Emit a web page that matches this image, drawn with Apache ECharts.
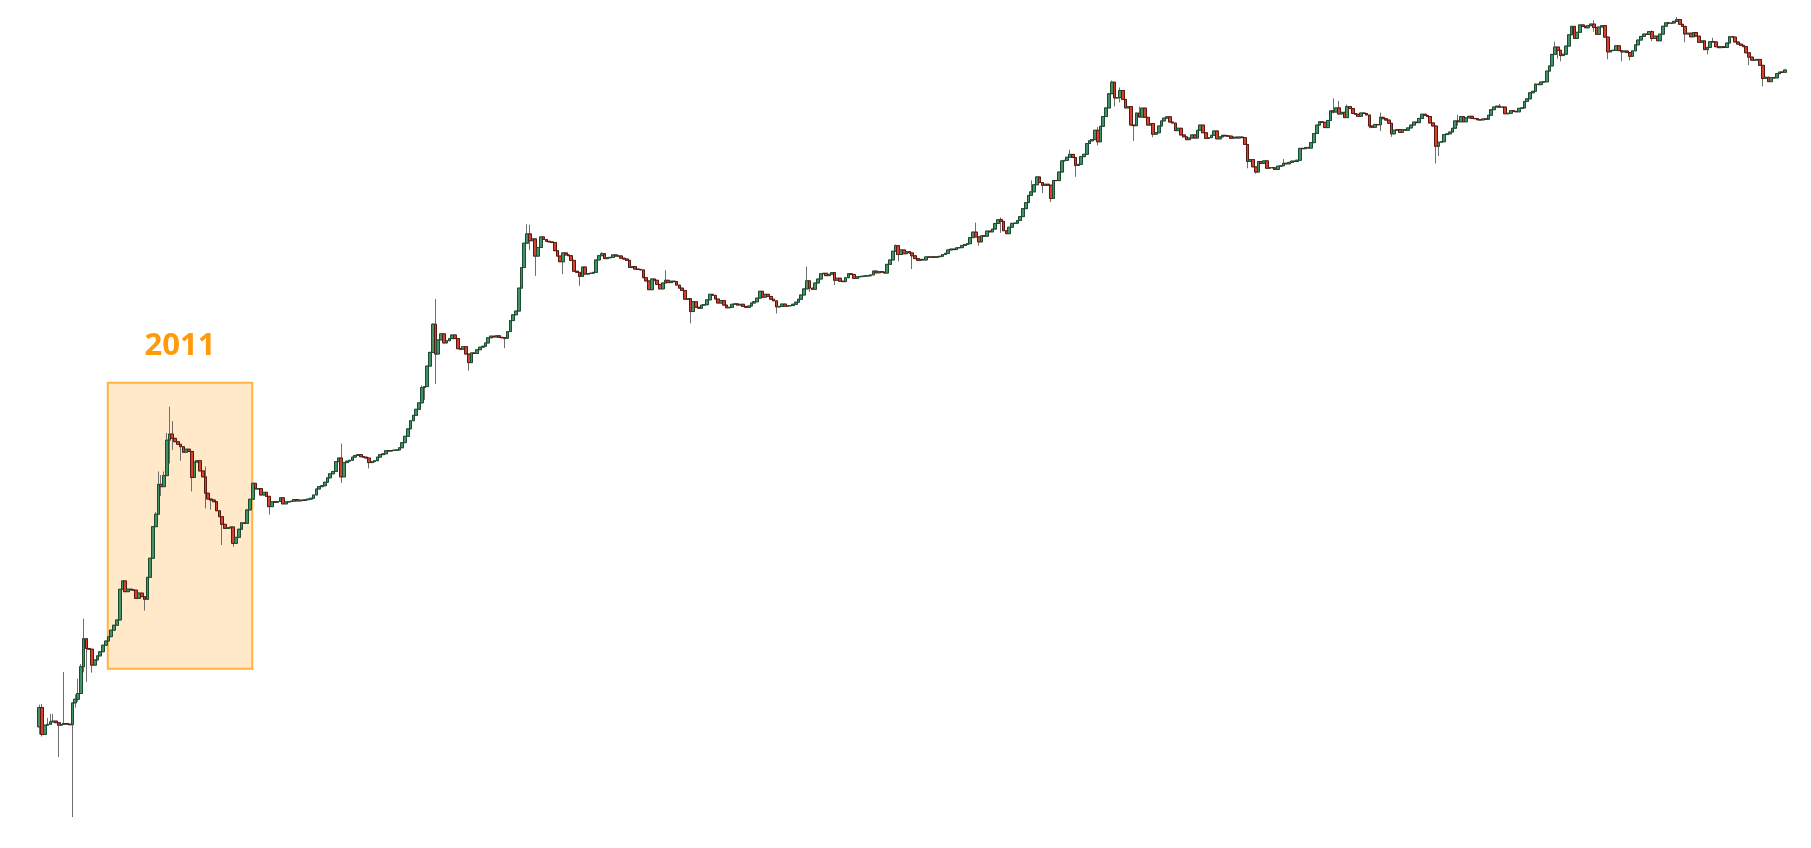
<!DOCTYPE html>
<html>
<head>
<meta charset="utf-8">
<script src="https://cdn.jsdelivr.net/npm/echarts@6/dist/echarts.min.js"></script>
<style>
html,body{margin:0;padding:0;background:#ffffff;}
#chart{width:1811px;height:848px;}
</style>
</head>
<body>
<div id="chart"></div>
<script>
// Weekly candles (week starting Monday), first week 2010-07-12, price in USD, log scale
const firstWeek = [2010, 6, 12];
const firstOpen = 0.058;

const closes2010 = [0.085,0.050,0.060,0.061,0.064,0.065,0.063,0.060,0.061,0.062,0.0612,0.0605,0.093,0.100,0.112,0.190,0.330,0.272,0.268,0.196,0.217,0.235,0.255,0.290,0.315];
const closes2011 = [0.343,0.390,0.430,0.477,0.873,1.03,0.833,0.875,0.862,0.858,0.730,0.810,0.755,0.716,1.105,1.61,3.00,3.83,6.90,6.60,8.20,16.5,18.6,17.1,16.0,15.2,14.5,13.0,13.8,13.2,7.9,10.7,11.0,9.0,8.0,5.8,5.17,5.07,4.9,4.1,3.65,3.14,2.90,2.93,2.98,2.16,2.43,2.85,3.24,3.20,4.17,5.15];
const closes2012 = [7.05,6.30,6.35,5.60,5.90,5.45,4.45,4.90,4.85,4.93,5.30,4.70,4.88,4.92,4.96,5.12,4.98,5.06,5.02,5.10,5.16,5.25,5.60,6.30,6.60,6.72,7.20,7.85,8.50,8.90,10.8,11.6,8.0,10.6,10.9,11.1,11.8,12.2,12.4,11.9,11.8,11.6,10.6,10.8,11.0,11.8,12.4,12.6,13.4,13.3,13.45,13.55];
const closes2013 = [13.6,14.2,15.7,17.8,20.6,24.2,26.9,30.3,34.4,46.5,47.4,71.0,93.0,162,90,119,134,112,117,122,131,122,100,99,104,90,76,92,91,98,103,105,112,124,128,126,129,125,124,123,140,174,195,210,330,495,800,960,840,870,620,735];
const closes2014 = [905,860,830,820,810,690,620,555,660,635,625,570,460,450,415,500,435,440,443,450,575,625,650,590,600,605,635,620,622,595,585,570,495,505,480,477,472,405,380,320,395,385,355,325,365,385,368,378,375,350,330,315];
const closes2015 = [265,268,208,252,226,222,236,238,262,292,286,266,246,258,236,224,226,240,242,236,240,230,226,232,246,252,271,310,276,292,280,265,257,228,230,241,231,233,234,240,250,265,288,325,381,330,322,365,395,438,442,422];
const closes2016 = [433,448,385,401,378,375,405,438,432,400,412,414,417,420,421,428,462,446,456,452,444,527,575,682,762,640,700,650,678,660,624,590,570,581,575,610,607,611,605,613,618,640,655,700,712,705,730,733,765,780,792,892,995];
const closes2017 = [905,820,925,918,1015,1000,1056,1180,1270,1230,1022,965,1095,1182,1186,1250,1350,1580,1780,2050,2200,2530,2950,2640,2500,2555,2505,1930,2750,2745,3250,4050,4090,4350,4600,4330,3700,3780,4400,4610,5700,6010,6150,7400,5900,8000,9700,11500,15200,19100,14000,14100];
const closes2018 = [16200,13600,11500,11800,8200,8100,10400,9600,11450,9550,8200,8450,6850,7050,8050,8900,9400,9650,8700,8530,7350,7700,6750,6500,6150,6350,6750,6350,7400,8200,7050,6300,6400,6700,7300,6250,6500,6700,6620,6600,6320,6480,6350,6480,6400,5600,4000,4150,3600,3250,4000,3850];
const closes2019 = [4050,3500,3550,3530,3420,3650,3680,3860,3820,3930,4030,4000,4100,5180,5150,5280,5210,5800,6950,8200,8750,8650,7800,8980,10850,10600,11500,10200,10550,9500,11800,11350,10300,10150,9750,10400,10300,10000,8050,7850,8300,8250,9550,9300,9050,8500,6900,7400,7500,7100,7500,7400];
const closes2020 = [7750,8200,8700,8600,9350,10150,9900,9700,8550,8050,5400,5850,5900,6800,6900,7150,7700,8900,8750,9700,8750,9450,9750,9350,9300,9100,9080,9250,9200,9950,11100,11700,11900,11650,11700,10250,10350,10900,10750,10650,11400,11500,13050,13750,15500,15950,18400,18200,19150,19250,23750,26300];
const closes2021 = [33000,38150,35800,32250,33100,38900,48600,57400,45200,51000,59000,57350,55800,58200,60000,56200,49000,56600,58200,46400,34700,35600,35800,39100,35600,34700,35300,34250,31800,35400,39850,43800,47050,49300,48850,51750,45150,47300,43200,49200,57500,61500,60900,61300,63300,65500,59700,57300,49400,50100,46700,50800,47300];
const closes2022 = [41850,43100,36250,37900,42400,42200,38400,37700,38400,37800,41300,46800,46400,42150,40400,39450,38450,34050,31300,29450,29500,29900,26600,20550,21050,19300,20850,20800,22600,23300,23200,24300];

// Visible wicks: [week index, high, low]
const wicks = [
  [0,0.09,0.05],[1,0.091,0.048],[3,0.069,null],[4,0.075,null],[5,0.075,null],[7,null,0.032],[9,0.171,null],
  [12,null,0.0098],[13,0.11,0.085],[14,0.15,0.095],[15,0.20,null],[16,0.49,0.17],[17,null,0.141],[19,null,0.169],
  [38,null,0.573],[42,4.0,null],[43,8.9,null],[44,8.3,5.5],[45,8.9,null],[46,19.0,null],[47,31.9,10.4],[48,24.0,13.6],
  [51,null,11.0],[55,null,6.0],[60,9.8,4.3],[62,null,4.2],[66,null,2.09],[70,null,2.02],[83,null,3.8],
  [109,15.4,7.1],[119,null,9.45],[138,48.4,null],[139,null,36.5],[142,165,null],[143,266,50],[155,null,65],[168,null,101],
  [176,1160,null],[177,1150,700],[179,null,420],[189,null,435],[195,null,345],[203,670,null],[226,470,null],
  [235,null,165],[266,null,200],[277,505,null],[278,null,307],[287,null,350],
  [309,780,null],[310,null,560],[315,null,480],[338,1200,null],[339,null,760],[347,1330,980],[358,2760,2080],[360,3000,null],
  [362,null,2150],[365,null,1800],[372,5040,null],[374,null,2960],[382,7900,5500],[387,19700,null],[388,16600,11850],[390,17200,12800],
  [395,null,6000],[397,11800,null],[402,null,6450],[436,null,3500],[439,null,3150],[449,4200,null],[467,13880,10300],
  [469,13200,null],[472,12300,null],[480,null,7700],[484,10500,7300],[488,null,6500],[504,null,3850],[505,null,4450],
  [512,10050,8100],[527,12450,null],[547,42400,null],[548,null,30400],[549,null,28800],[561,64800,51500],[566,null,30000],
  [571,null,28800],[574,null,29300],[582,52900,42900],[591,69000,null],[594,null,42000],[602,null,33000],[604,45800,null],
  [617,null,26700],[622,null,17600]
];

// Highlighted period
const highlightLabel = '2011';
const highlightFrom = '2011-01-01';
const highlightTo = '2012-01-01';
const highlightLow = 0.1826;
const highlightHigh = 51.2;

// ---- build series data ----
const closes = [].concat(closes2010, closes2011, closes2012, closes2013, closes2014, closes2015,
  closes2016, closes2017, closes2018, closes2019, closes2020, closes2021, closes2022);
const wickMap = {};
wicks.forEach(w => { wickMap[w[0]] = w; });

const fullData = [];
const bodyData = [];
for (let i = 0; i < closes.length; i++) {
  const t = new Date(firstWeek[0], firstWeek[1], firstWeek[2] + 7 * i).getTime();
  const o = i === 0 ? firstOpen : closes[i - 1];
  const c = closes[i];
  const w = wickMap[i];
  let lo = Math.min(o, c), hi = Math.max(o, c);
  if (w) {
    if (w[1] != null) hi = Math.max(hi, w[1]);
    if (w[2] != null) lo = Math.min(lo, w[2]);
  }
  fullData.push([t, o, c, lo, hi]);
  bodyData.push([t, o, c, Math.min(o, c), Math.max(o, c)]);
}
const tFirst = fullData[0][0];
const tLast = fullData[fullData.length - 1][0];

const chart = echarts.init(document.getElementById('chart'), null, { renderer: 'canvas' });
chart.setOption({
  animation: false,
  backgroundColor: '#ffffff',
  grid: { left: 39.3, right: 26, top: 0, bottom: 0, containLabel: false },
  xAxis: { type: 'time', min: tFirst, max: tLast, show: false, splitLine: { show: false } },
  yAxis: { type: 'log', logBase: 10, min: 0.005333, max: 96420, show: false, splitLine: { show: false } },
  series: [
    {
      type: 'candlestick',
      name: 'wicks',
      large: false,
      clip: false,
      z: 2,
      barWidth: 3.2,
      encode: { x: 0, y: [1, 2, 3, 4] },
      data: fullData,
      itemStyle: {
        color: 'rgba(0,0,0,0)', color0: 'rgba(0,0,0,0)',
        borderColor: '#6e6e6e', borderColor0: '#6e6e6e', borderColorDoji: '#6e6e6e', borderWidth: 1
      },
      emphasis: { disabled: true },
      markArea: {
        silent: true,
        z: 1,
        itemStyle: { color: 'rgba(255,167,38,0.25)', borderColor: '#ffb441', borderWidth: 2 },
        label: {
          show: true, position: 'top', distance: 20, formatter: highlightLabel,
          color: '#ff9a0a', fontSize: 31, fontWeight: 'bold', fontFamily: 'Open Sans', lineHeight: 31
        },
        data: [[{ xAxis: highlightFrom, yAxis: highlightLow }, { xAxis: highlightTo, yAxis: highlightHigh }]]
      }
    },
    {
      type: 'candlestick',
      name: 'bodies',
      large: false,
      clip: false,
      z: 3,
      barWidth: 3.2,
      encode: { x: 0, y: [1, 2, 3, 4] },
      data: bodyData,
      itemStyle: {
        color: '#3f9467', color0: '#d8412c',
        borderColor: '#1e4a32', borderColor0: '#5a1810', borderColorDoji: '#5a1810', borderWidth: 1
      },
      emphasis: { disabled: true }
    }
  ]
});
</script>
</body>
</html>
